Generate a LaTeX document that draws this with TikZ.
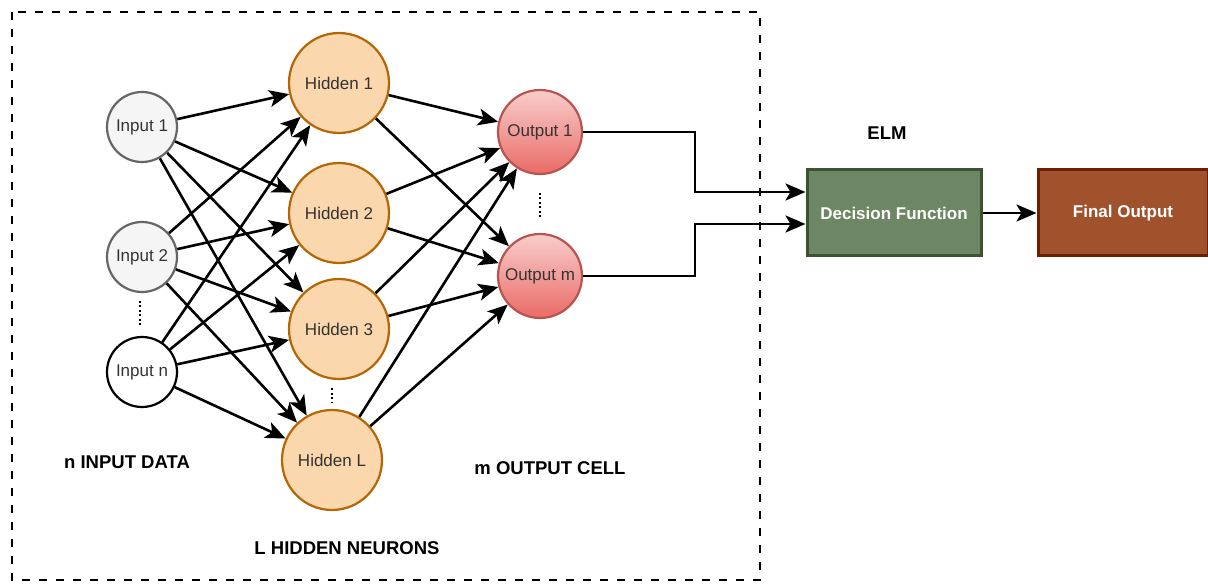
\documentclass[tikz,border=0pt]{standalone}
\usepackage{fontspec}
\setmainfont{Liberation Sans}
\usetikzlibrary{arrows.meta,calc}
\definecolor{inFill}{HTML}{F5F5F5}
\definecolor{inLine}{HTML}{666666}
\definecolor{hidFill}{HTML}{FAD7AC}
\definecolor{hidLine}{HTML}{B46504}
\definecolor{outTop}{HTML}{F8CECC}
\definecolor{outBot}{HTML}{EA6B66}
\definecolor{outLine}{HTML}{B85450}
\definecolor{decFill}{HTML}{6D8764}
\definecolor{decLine}{HTML}{3A5431}
\definecolor{finFill}{HTML}{A0522D}
\definecolor{finLine}{HTML}{6D1F00}
\definecolor{txt}{HTML}{333333}
\tikzset{
  neuron/.style={circle,inner sep=0pt,line width=2.2pt,text=txt,
    font=\fontsize{17}{20}\selectfont},
  inputgrey/.style={neuron,draw=inLine,fill=inFill,minimum size=70pt},
  inputwhite/.style={neuron,draw=black,fill=white,minimum size=70pt},
  hiddenunit/.style={neuron,draw=hidLine,fill=hidFill,minimum size=100pt},
  outputunit/.style={neuron,draw=outLine,top color=outTop,bottom color=outBot,minimum size=84pt},
  block/.style={rectangle,line width=3pt,minimum width=174pt,minimum height=86pt,
    text=white,font=\fontsize{17}{20}\selectfont\bfseries},
  caption/.style={font=\fontsize{18.5}{22}\selectfont\bfseries,text=black},
  tip/.style={-{Stealth[length=20pt,width=17pt,inset=5pt]}},
  link/.style={line width=2.6pt,tip},
  dots/.style={line width=2.2pt,dash pattern=on 2pt off 2.5pt},
}
\begin{document}
\begin{tikzpicture}[x=1pt,y=-1pt]
\useasboundingbox (0,0) rectangle (1208,585);

% ELM frame
\draw[line width=2.4pt,dash pattern=on 8pt off 9pt] (12,12) rectangle (760,580);

% input layer
\node[inputgrey]  (i1) at (142,127) {Input 1};
\node[inputgrey]  (i2) at (142,257) {Input 2};
\node[inputwhite] (in) at (142,372) {Input n};
\coordinate (di1) at (140,301);
\coordinate (di2) at (140,327);
\draw[dots] (di1) -- (di2);

% hidden layer
\node[hiddenunit] (h1) at (339,83)  {Hidden 1};
\node[hiddenunit] (h2) at (339,213) {Hidden 2};
\node[hiddenunit] (h3) at (339,329) {Hidden 3};
\node[hiddenunit] (hL) at (332,460) {Hidden L};
\coordinate (dh1) at (332,388);
\coordinate (dh2) at (332,402);
\draw[dots] (dh1) -- (dh2);

% output layer
\node[outputunit] (o1) at (540,132) {Output 1};
\node[outputunit] (om) at (540,276) {Output m};
\coordinate (do1) at (540,193);
\coordinate (do2) at (540,217);
\draw[dots] (do1) -- (do2);

% decision stage
\node[block,draw=decLine,fill=decFill] (dec) at (894,213) {Decision Function};
\node[block,draw=finLine,fill=finFill,minimum width=170pt] (fin) at (1123,213) {Final Output};

% captions
\node[caption] (celm) at (887,133) {ELM};
\node[caption] (cin)  at (127,462) {n INPUT DATA};
\node[caption] (chid) at (347,548) {L HIDDEN NEURONS};
\node[caption] (cout) at (550,468) {m OUTPUT CELL};

% input -> hidden connections
\foreach \s in {i1,i2,in}
  \foreach \t in {h1,h2,h3,hL}
    \draw[link] (\s) -- (\t);

% hidden -> output connections
\foreach \s in {h1,h2,h3,hL}
  \foreach \t in {o1,om}
    \draw[link] (\s) -- (\t);

% outputs -> decision function
\draw[link] (o1.east) -- (695,132) |- ([yshift=21pt]dec.west);
\draw[link] (om.east) -- (695,276) |- ([yshift=-11pt]dec.west);
\draw[link] (dec) -- (fin);
\end{tikzpicture}
\end{document}
